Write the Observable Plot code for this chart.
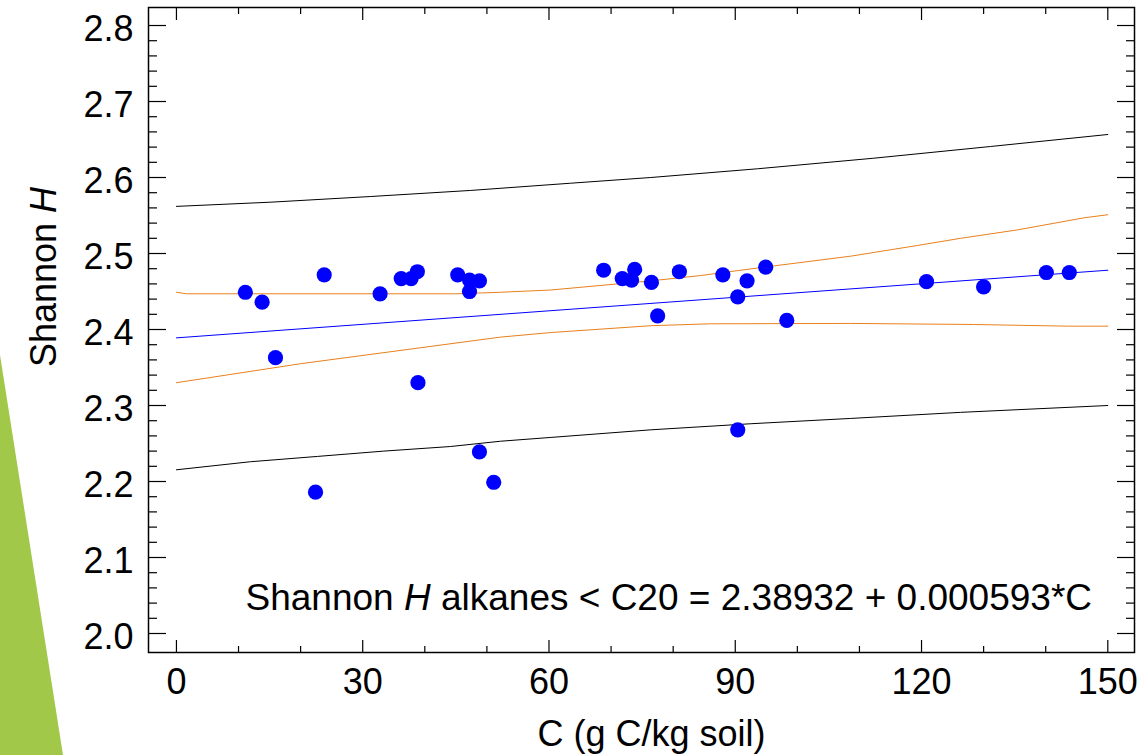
<!DOCTYPE html>
<html><head><meta charset="utf-8">
<script src="https://cdn.jsdelivr.net/npm/d3@7"></script>
<script src="https://cdn.jsdelivr.net/npm/@observablehq/plot@0.6"></script>
<style>
html,body{margin:0;padding:0;background:#fff;overflow:hidden}
#wrap{position:relative;width:1137px;height:755px}
#tri{position:absolute;left:0;top:0;width:1137px;height:755px;background:#a2c84a;clip-path:polygon(0 355px,63px 755px,0 755px);pointer-events:none}
</style></head><body><div id="wrap"><div id="tri"></div></div>
<script>
// Observations: soil carbon (g C/kg soil) vs Shannon H of alkanes < C20
const carbon = [11.1,13.8,15.95,22.4,23.8,32.8,36.2,37.8,38.8,38.9,45.3,47.2,47.2,48.8,48.8,51.1,68.8,71.8,73.3,73.8,76.5,77.5,81.0,88.0,90.4,90.4,91.9,94.9,98.3,120.8,130.0,140.1,143.8];
const shannonH = [2.449,2.436,2.363,2.186,2.472,2.447,2.467,2.467,2.476,2.330,2.472,2.465,2.450,2.464,2.239,2.199,2.478,2.467,2.465,2.479,2.462,2.418,2.476,2.472,2.443,2.268,2.464,2.482,2.412,2.463,2.456,2.475,2.475];

// Regression line
const fitC = [0,150];
const fitH = [2.389,2.478];
// Confidence band (orange)
const confUpperC = [0,1.6,45,52.2,60.3,76.4,84.4,94.6,108.6,119.3,126.3,135.4,146.2,150];
const confUpperH = [2.449,2.447,2.447,2.449,2.452,2.464,2.471,2.482,2.4965,2.5105,2.520,2.531,2.547,2.551];
const confLowerC = [0,20,52.2,60.3,76.4,86,108.6,128.4,143.5,150];
const confLowerH = [2.330,2.355,2.390,2.396,2.405,2.4075,2.408,2.4066,2.4044,2.4044];
// Prediction band (black)
const predUpperC = [0,15.1,31.3,47.4,63.5,76.4,93.6,112.3,131.1,150];
const predUpperH = [2.562,2.5675,2.575,2.583,2.5925,2.600,2.6115,2.6254,2.6408,2.6566];
const predLowerC = [0,11.9,22.7,33.4,44.1,52.2,60.3,76.4,92.5,108.6,126.3,150];
const predLowerH = [2.2154,2.226,2.233,2.240,2.246,2.253,2.258,2.268,2.276,2.283,2.291,2.300];

// Tick values
const xMajor = [0,30,60,90,120,150];
const xMinor = [10,20,40,50,70,80,100,110,130,140];
const yMajor = [2.0,2.1,2.2,2.3,2.4,2.5,2.6,2.7,2.8];
const yMinor = [2.02,2.04,2.06,2.08,2.12,2.14,2.16,2.18,2.22,2.24,2.26,2.28,2.32,2.34,2.36,2.38,2.42,2.44,2.46,2.48,2.52,2.54,2.56,2.58,2.62,2.64,2.66,2.68,2.72,2.74,2.76,2.78];

const xTitle = "C (g C/kg soil)";
const yTitle = "Shannon H";
const equation = "Shannon H alkanes < C20 = 2.38932 + 0.000593*C";

const zip = (a, b) => a.map((v, i) => ({c: v, h: b[i]}));
const pts = zip(carbon, shannonH);

const font = "'Liberation Sans', Arial, Helvetica, sans-serif";
const tickStyle = {fill: "none", label: null, strokeWidth: 1.2};

const chart = Plot.plot({
  width: 1137, height: 755,
  marginLeft: 148, marginRight: 3, marginTop: 7, marginBottom: 103,
  style: {fontFamily: font, background: "transparent", color: "black"},
  x: {domain: [-4.5, 154.3]},
  y: {domain: [1.975, 2.8237]},
  marks: [
    Plot.line(zip(predUpperC, predUpperH), {x: "c", y: "h", stroke: "black", strokeWidth: 1}),
    Plot.line(zip(predLowerC, predLowerH), {x: "c", y: "h", stroke: "black", strokeWidth: 1}),
    Plot.line(zip(confUpperC, confUpperH), {x: "c", y: "h", stroke: "#e8801e", strokeWidth: 1}),
    Plot.line(zip(confLowerC, confLowerH), {x: "c", y: "h", stroke: "#e8801e", strokeWidth: 1}),
    Plot.line(zip(fitC, fitH), {x: "c", y: "h", stroke: "#0000ff", strokeWidth: 1}),
    Plot.dot(pts, {x: "c", y: "h", r: 7.6, fill: "#0000ff", stroke: "none"}),
    Plot.frame({stroke: "black", strokeWidth: 1.5}),
    Plot.axisX(xMajor, {anchor: "bottom", tickSize: -12, ...tickStyle}),
    Plot.axisX(xMinor, {anchor: "bottom", tickSize: -6, ...tickStyle}),
    Plot.axisX(xMajor, {anchor: "top", tickSize: -12, ...tickStyle}),
    Plot.axisX(xMinor, {anchor: "top", tickSize: -6, ...tickStyle}),
    Plot.axisY(yMajor, {anchor: "left", tickSize: -18, ...tickStyle}),
    Plot.axisY(yMinor, {anchor: "left", tickSize: -9, ...tickStyle}),
    Plot.axisY(yMajor, {anchor: "right", tickSize: -18, ...tickStyle}),
    Plot.axisY(yMinor, {anchor: "right", tickSize: -9, ...tickStyle}),
    Plot.axisX(xMajor, {anchor: "bottom", tickSize: 0, tickPadding: 16, fontSize: 36, label: null, tickFormat: d3.format("d")}),
    Plot.axisY(yMajor, {anchor: "left", tickSize: 0, tickPadding: 15, fontSize: 36, label: null, dy: 4, tickFormat: d3.format(".1f")}),
    Plot.text([xTitle], {frameAnchor: "bottom", dx: 10, dy: 93, lineAnchor: "bottom", fontSize: 36, text: d => d}),
    Plot.text([yTitle], {frameAnchor: "left", dx: -93, dy: -53, rotate: -90, lineAnchor: "bottom", textAnchor: "middle", fontSize: 36, text: d => d}),
    Plot.text([equation], {frameAnchor: "bottom-left", dx: 97, dy: -43, textAnchor: "start", lineAnchor: "bottom", fontSize: 37, text: d => d})
  ]
});

// italicise the variable H in "Shannon H"
const NS = "http://www.w3.org/2000/svg";
chart.querySelectorAll("text").forEach(t => {
  const s = t.textContent;
  if (s.includes("Shannon H")) {
    const idx = s.indexOf("Shannon H");
    const before = s.slice(0, idx) + "Shannon ";
    const after = s.slice(idx + 9);
    while (t.firstChild) t.removeChild(t.firstChild);
    const a = document.createElementNS(NS, "tspan"); a.textContent = before;
    const h = document.createElementNS(NS, "tspan"); h.textContent = "H"; h.setAttribute("font-style", "italic");
    t.appendChild(a); t.appendChild(h);
    if (after) { const b = document.createElementNS(NS, "tspan"); b.textContent = after; t.appendChild(b); }
  }
});

document.getElementById("wrap").appendChild(chart);
</script>
</body></html>
